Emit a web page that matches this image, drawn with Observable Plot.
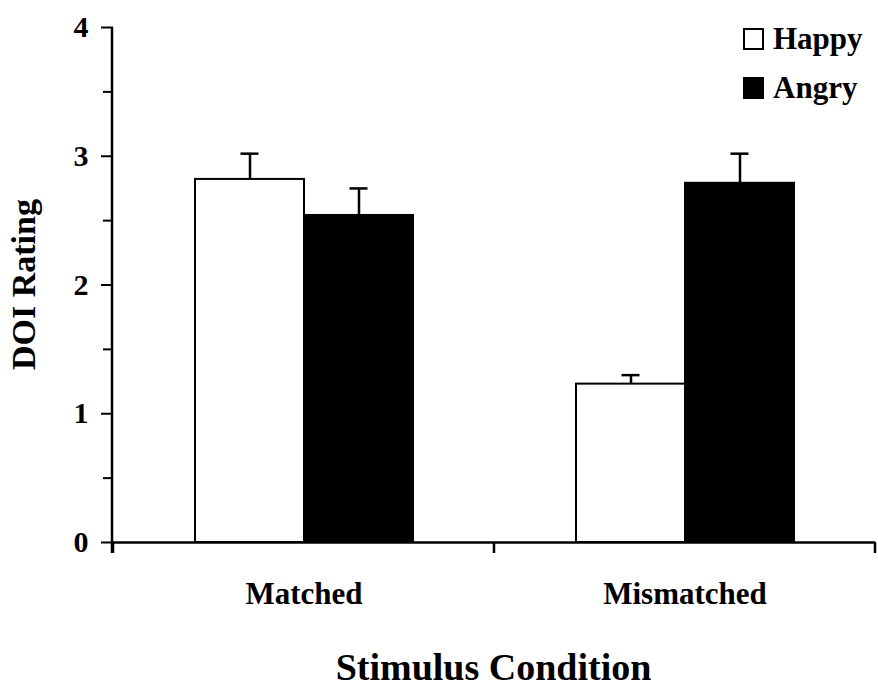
<!DOCTYPE html>
<html>
<head>
<meta charset="utf-8">
<script src="https://cdn.jsdelivr.net/npm/d3@7"></script>
<script src="https://cdn.jsdelivr.net/npm/@observablehq/plot@0.6"></script>
<style>
  body { margin: 0; background: #fff; }
  #chart { width: 878px; height: 687px; }
</style>
</head>
<body>
<div id="chart"></div>
<script>
const conditions = ["Matched", "Mismatched"];
const emotions = ["Happy", "Angry"];
const happyMeans = [2.82, 1.23];
const angryMeans = [2.54, 2.79];
const happyErrors = [0.20, 0.07];
const angryErrors = [0.21, 0.23];
const yTicks = [0, 1, 2, 3, 4];
const yMinorTicks = [0.5, 1.5, 2.5, 3.5];
const xTitle = "Stimulus Condition";
const yTitle = "DOI Rating";

const data = conditions.flatMap((c, i) => [
  {condition: c, emotion: "Happy", mean: happyMeans[i], err: happyErrors[i]},
  {condition: c, emotion: "Angry", mean: angryMeans[i], err: angryErrors[i]}
]);

const font = "'Liberation Serif', 'Times New Roman', serif";

const chart = Plot.plot({
  width: 878,
  height: 687,
  marginTop: 27,
  marginBottom: 145,
  marginLeft: 112,
  marginRight: 3,
  style: {fontFamily: font, fontWeight: "bold", background: "white", color: "black", overflow: "visible"},
  fx: {domain: conditions, padding: 0, label: null},
  x: {domain: emotions, paddingInner: 0, paddingOuter: 0.734, axis: null},
  y: {domain: [0, 4], label: null},
  color: {domain: emotions, range: ["white", "black"]},
  marks: [
    Plot.barY(data, {fx: "condition", x: "emotion", y: "mean", fill: "emotion", stroke: "black", strokeWidth: 2}),
    Plot.ruleX(data, {fx: "condition", x: "emotion", y1: "mean", y2: d => d.mean + d.err, stroke: "black", strokeWidth: 2.5}),
    Plot.tickY(data, {fx: "condition", x: "emotion", y: d => d.mean + d.err, insetLeft: 45.5, insetRight: 45.5, stroke: "black", strokeWidth: 2.5}),
    Plot.ruleY([0], {stroke: "black", strokeWidth: 2.5}),
    Plot.axisY({ticks: yTicks, tickSize: 12, tickPadding: 13, fontSize: 30, strokeWidth: 2, tickFormat: d => String(d), label: null}),
    Plot.axisY({ticks: yMinorTicks, tickSize: 10, tickFormat: () => "", strokeWidth: 2, label: null}),
    Plot.axisFx({anchor: "bottom", tickSize: 0, tickPadding: 39, fontSize: 31, label: null})
  ]
});

document.getElementById("chart").appendChild(chart);

// axis lines and boundary ticks from the Plot scales
const svg = d3.select(chart);
const fx = chart.scale("fx");
const y = chart.scale("y");
const xLeft = fx.range[0];
const xRight = fx.range[1];
const y0 = y.apply(0);
const yTop = y.apply(4);

svg.append("line")
  .attr("x1", xLeft).attr("x2", xLeft)
  .attr("y1", yTop).attr("y2", y0 + 11)
  .attr("stroke", "black").attr("stroke-width", 2.5);

[...conditions.map(c => fx.apply(c)), xRight].forEach(xp => {
  svg.append("line")
    .attr("x1", xp).attr("x2", xp)
    .attr("y1", y0).attr("y2", y0 + 11)
    .attr("stroke", "black").attr("stroke-width", 2.5);
});

// axis titles
svg.append("text")
  .attr("x", (xLeft + xRight) / 2).attr("y", 680)
  .attr("text-anchor", "middle")
  .attr("font-size", 38).attr("font-weight", "bold").attr("font-family", font)
  .attr("fill", "black")
  .text(xTitle);

svg.append("text")
  .attr("transform", `translate(35,${(yTop + y0) / 2}) rotate(-90)`)
  .attr("text-anchor", "middle")
  .attr("font-size", 34).attr("font-weight", "bold").attr("font-family", font)
  .attr("fill", "black")
  .text(yTitle);

// legend
const legendItems = [
  {label: emotions[0], fill: "white", y: 29},
  {label: emotions[1], fill: "black", y: 78}
];
legendItems.forEach(item => {
  svg.append("rect")
    .attr("x", 744).attr("y", item.y).attr("width", 19).attr("height", 20)
    .attr("fill", item.fill).attr("stroke", "black").attr("stroke-width", 2);
  svg.append("text")
    .attr("x", 773).attr("y", item.y + 20)
    .attr("text-anchor", "start")
    .attr("font-size", 31).attr("font-weight", "bold").attr("font-family", font)
    .attr("fill", "black")
    .text(item.label);
});
</script>
</body>
</html>
